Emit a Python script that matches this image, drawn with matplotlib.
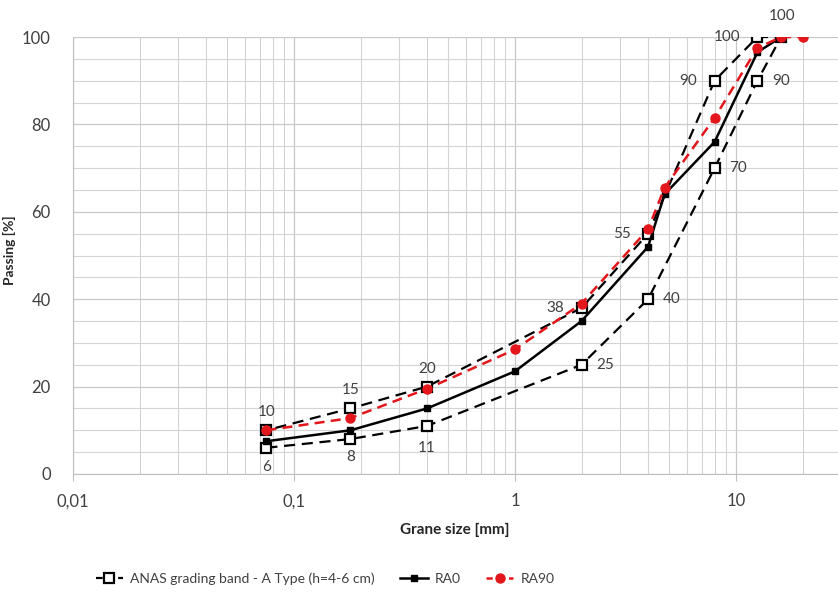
import matplotlib
matplotlib.use("Agg")
import matplotlib.pyplot as plt
from matplotlib.ticker import FixedLocator, FuncFormatter, NullFormatter
from matplotlib.lines import Line2D

plt.rcParams['font.family'] = ['Lato', 'DejaVu Sans']

# ANAS grading band: lower limit going up, then upper limit coming back
band_low_x = [0.075, 0.18, 0.4, 2, 4, 8, 12.5, 16]
band_low_y = [6, 8, 11, 25, 40, 70, 90, 100]
band_up_x = [0.075, 0.18, 0.4, 2, 4, 8, 12.5]
band_up_y = [10, 15, 20, 38, 55, 90, 100]

ra0_x = [0.075, 0.18, 0.4, 1, 2, 4, 4.75, 8, 12.5, 16]
ra0_y = [7.5, 10, 15, 23.5, 35, 52, 64, 76, 96.5, 100]

ra90_x = [0.075, 0.18, 0.4, 1, 2, 4, 4.75, 8, 12.5, 16, 20]
ra90_y = [10, 12.8, 19.5, 28.5, 39, 56, 65.5, 81.5, 97.5, 100, 100]

low_labels = ['6', '8', '11', '25', '40', '70', '90', '100']
up_labels = ['10', '15', '20', '38', '55', '90', '100']
# offsets in points for each label (band lower / upper)
low_off = [(0, -14), (0, -13), (0, -16), (17, 0), (17, 0), (17, 0), (17, 0), (1, 15)]
up_off = [(0, 13), (0, 13), (0, 13), (-19, 0), (-19, 0), (-19, 0), (-22, 0)]

W, H = 838, 606
fig = plt.figure(figsize=(W / 100, H / 100), dpi=100)
# plot area runs past the right edge of the picture (x up to 100 mm)
ax = fig.add_axes([73 / W, 1 - 474 / H, 884 / W, 437 / H])

band_x = band_low_x + band_up_x[::-1]
band_y = band_low_y + band_up_y[::-1]
ax.plot(band_x, band_y, color='black', lw=1.6, ls=(0, (5, 3)), marker='s', ms=7,
        mfc='white', mec='black', mew=1.6, zorder=3)
ax.plot(ra0_x, ra0_y, color='black', lw=1.8, marker='s', ms=5, mfc='black', mec='black', zorder=4)
ax.plot(ra90_x, ra90_y, color='#e3161b', lw=1.8, ls=(0, (4, 2.5)), marker='o', ms=6.5,
        mfc='#e3161b', mec='#e3161b', zorder=5)

lab_col = '#404040'
for x, y, t, o in zip(band_low_x, band_low_y, low_labels, low_off):
    ax.annotate(t, (x, y), xytext=o, textcoords='offset points', ha='center', va='center',
                fontsize=11, color=lab_col, annotation_clip=False)
for x, y, t, o in zip(band_up_x, band_up_y, up_labels, up_off):
    ax.annotate(t, (x, y), xytext=o, textcoords='offset points', ha='center', va='center',
                fontsize=11, color=lab_col, annotation_clip=False)

ax.set_xscale('log')
ax.set_xlim(0.01, 100)
ax.set_ylim(0, 100)

decades = [0.01, 0.1, 1, 10, 100]
minors = [m * d for d in decades[:-1] for m in range(2, 10)]
ax.xaxis.set_major_locator(FixedLocator(decades))
ax.xaxis.set_minor_locator(FixedLocator(minors))
# the 100 mm label falls outside the picture, leave it blank
ax.xaxis.set_major_formatter(FuncFormatter(lambda v, p: '' if v > 50 else ('%g' % v).replace('.', ',')))
ax.xaxis.set_minor_formatter(NullFormatter())
ax.yaxis.set_major_locator(FixedLocator(range(0, 101, 20)))
ax.yaxis.set_minor_locator(FixedLocator(range(0, 101, 5)))

ax.grid(True, which='major', axis='both', color='#c8c8c8', lw=0.9)
ax.grid(True, which='minor', axis='both', color='#d4d4d4', lw=0.8)
ax.set_axisbelow(True)
for s in ['top', 'right']:
    ax.spines[s].set_visible(False)
ax.spines['left'].set_color('#bfbfbf')
ax.spines['bottom'].set_color('#bfbfbf')
ax.tick_params(axis='x', which='major', length=5, color='#bfbfbf', labelsize=12,
               labelcolor=lab_col, pad=9)
ax.tick_params(axis='x', which='minor', length=0)
ax.tick_params(axis='y', which='both', length=0, labelsize=12, labelcolor=lab_col, pad=16)

fig.text(455 / W, 1 - 530 / H, 'Grane size [mm]', ha='center', va='center',
         fontsize=11, fontweight='bold', color='#262626')
fig.text(9 / W, 1 - 250 / H, 'Passing [%]', ha='center', va='center', rotation=90,
         fontsize=10, fontweight='bold', color='#262626')

handles = [
    Line2D([], [], color='black', lw=1.6, ls=(0, (3, 2)), marker='s', ms=7, mfc='white', mew=1.6),
    Line2D([], [], color='black', lw=1.8, marker='s', ms=5),
    Line2D([], [], color='#e3161b', lw=1.8, ls=(0, (2.5, 2)), marker='o', ms=6.5),
]
names = ['ANAS grading band - A Type (h=4-6 cm)', 'RA0', 'RA90']
fig.legend(handles, names, loc='center', bbox_to_anchor=(325 / W, 1 - 579 / H), ncol=3,
           frameon=False, fontsize=10, handlelength=2.0, columnspacing=1.8, handletextpad=0.5,
           labelcolor=lab_col)

fig.savefig('out.png', dpi=100)
